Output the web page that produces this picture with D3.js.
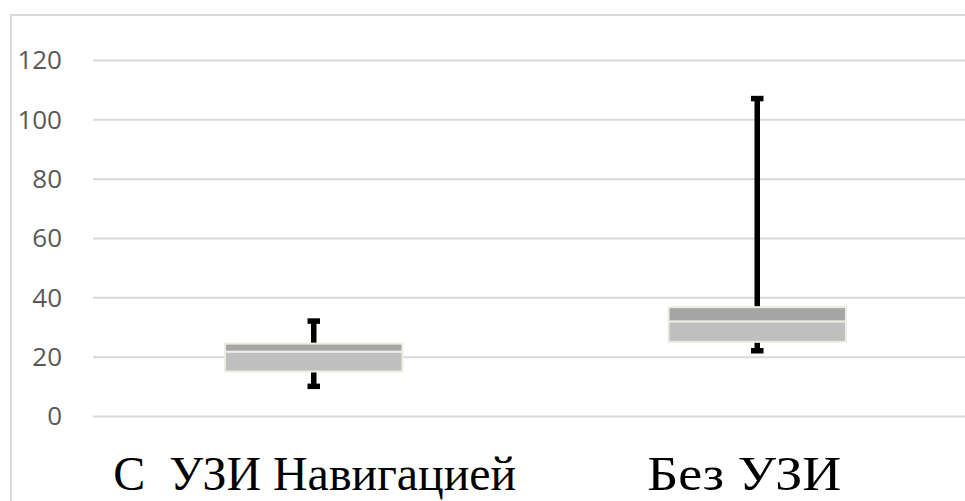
<!DOCTYPE html>
<html>
<head>
<meta charset="utf-8">
<script src="https://cdn.jsdelivr.net/npm/d3@7"></script>
<style>
  html, body { margin: 0; padding: 0; background: #fff; }
  svg { display: block; }
</style>
</head>
<body>
<svg id="chart" width="965" height="501"></svg>
<script>
// ---- data ----
const categories = ["С  УЗИ Навигацией", "Без УЗИ"];
const lowWhisker = [10, 22];
const q1 = [15, 25];
const median = [21.7, 31.9];
const q3 = [24.4, 36.7];
const highWhisker = [32, 107];
const yTicks = [0, 20, 40, 60, 80, 100, 120];

// ---- layout ----
const W = 965, H = 501;
const svg = d3.select("#chart");

const x = d3.scaleBand().domain(categories).range([92, 979]).paddingInner(0).paddingOuter(0);
const y = d3.scaleLinear().domain([0, 120]).range([416, 60]);
const boxW = x.bandwidth() * 0.4;

// chart border
svg.append("rect")
  .attr("x", 11).attr("y", 15)
  .attr("width", W + 20).attr("height", H + 20)
  .attr("fill", "#fff").attr("stroke", "#d9d9d9").attr("stroke-width", 2);

// gridlines
const grid = d3.axisLeft(y).tickValues(yTicks).tickSize(-(W - 93)).tickFormat("");
svg.append("g").attr("transform", "translate(93,0)").call(grid)
  .call(g => g.select(".domain").remove())
  .call(g => g.selectAll("line").attr("stroke", "#d9d9d9").attr("stroke-width", 2));

// tick labels
const yAxis = d3.axisLeft(y).tickValues(yTicks).tickSize(0).tickPadding(0);
svg.append("g").attr("transform", "translate(62,0)").call(yAxis)
  .call(g => g.select(".domain").remove())
  .call(g => g.selectAll("text")
    .attr("font-family", "'Open Sans', 'Noto Sans', sans-serif")
    .attr("font-size", 26)
    .attr("fill", "#595959")
    .attr("dy", "0.34em")
    .attr("x", 0));

const rows = categories.map((c, i) => ({
  c, lo: lowWhisker[i], q1: q1[i], med: median[i], q3: q3[i], hi: highWhisker[i]
}));

const g = svg.append("g");
const cx = d => x(d.c) + x.bandwidth() / 2;

// whiskers
const wsw = 5.5, capW = 12.5;
g.selectAll(".whi").data(rows).join("line")
  .attr("x1", cx).attr("x2", cx)
  .attr("y1", d => y(d.q3)).attr("y2", d => y(d.hi))
  .attr("stroke", "#000").attr("stroke-width", wsw);
g.selectAll(".wlo").data(rows).join("line").attr("class", "wlo")
  .attr("x1", cx).attr("x2", cx)
  .attr("y1", d => y(d.q1)).attr("y2", d => y(d.lo))
  .attr("stroke", "#000").attr("stroke-width", wsw);
["hi", "lo"].forEach(k => {
  g.selectAll(".cap" + k).data(rows).join("line").attr("class", "cap" + k)
    .attr("x1", d => cx(d) - capW / 2).attr("x2", d => cx(d) + capW / 2)
    .attr("y1", d => y(d[k])).attr("y2", d => y(d[k]))
    .attr("stroke", "#000").attr("stroke-width", wsw);
});

// boxes: lower part (q1-median) lighter, upper part (median-q3) darker
g.selectAll(".blo").data(rows).join("rect").attr("class", "blo")
  .attr("x", d => cx(d) - boxW / 2).attr("width", boxW)
  .attr("y", d => y(d.med)).attr("height", d => y(d.q1) - y(d.med))
  .attr("fill", "#bfbfbf").attr("stroke", "#eeece1").attr("stroke-width", 2);
g.selectAll(".bhi").data(rows).join("rect").attr("class", "bhi")
  .attr("x", d => cx(d) - boxW / 2).attr("width", boxW)
  .attr("y", d => y(d.q3)).attr("height", d => y(d.med) - y(d.q3))
  .attr("fill", "#a5a5a5").attr("stroke", "#eeece1").attr("stroke-width", 2);

// category labels (tall, condensed serif)
const labelWidths = [403, 194];
const labelShift = [1, -13];
svg.append("g").selectAll("text").data(rows).join("text")
  .attr("x", (d, i) => cx(d) + labelShift[i])
  .attr("y", 490)
  .attr("text-anchor", "middle")
  .attr("font-family", "'Liberation Serif', 'DejaVu Serif', serif")
  .attr("font-size", 48)
  .attr("fill", "#000")
  .style("white-space", "pre")
  .attr("textLength", (d, i) => labelWidths[i])
  .attr("lengthAdjust", "spacingAndGlyphs")
  .text(d => d.c);
</script>
</body>
</html>
